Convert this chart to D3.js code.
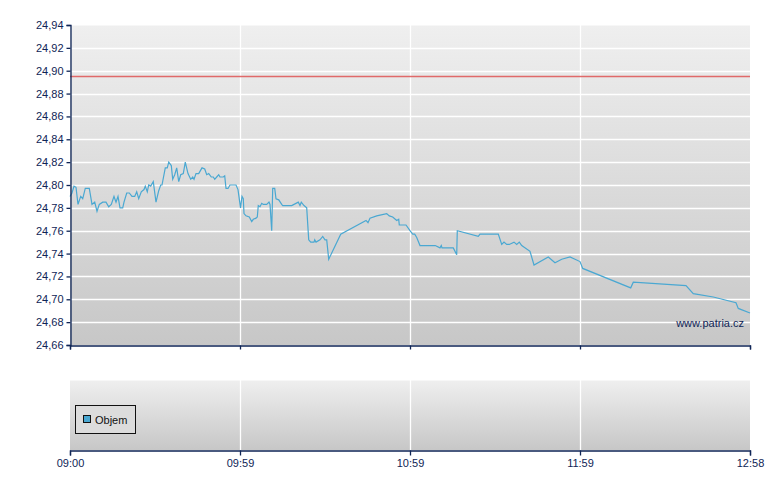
<!DOCTYPE html>
<html>
<head>
<meta charset="utf-8">
<script src="https://cdn.jsdelivr.net/npm/d3@7"></script>
<style>
  body { margin: 0; background: #fff; }
  svg { display: block; font-family: "Liberation Sans", Arial, sans-serif; }
</style>
</head>
<body>
<div id="vis"></div>
<script>
// intraday prices (time, price)
var times = ["09:00:00","09:00:42","09:01:24","09:02:06","09:02:48","09:03:45","09:04:27","09:05:21","09:06:45","09:07:42",
  "09:08:39","09:09:27","09:10:15","09:11:27","09:12:36","09:13:33","09:14:27","09:15:24","09:16:06","09:16:48",
  "09:17:30","09:18:27","09:18:54","09:19:51","09:20:45","09:21:42","09:22:39","09:23:21","09:24:03","09:24:57",
  "09:25:54","09:26:21","09:27:03","09:27:33","09:28:15","09:29:09","09:30:06","09:31:03","09:31:45","09:32:12",
  "09:33:21","09:34:03","09:34:33","09:35:27","09:35:57","09:36:39","09:37:21","09:38:03","09:38:45","09:39:39",
  "09:40:21","09:41:18","09:42:15","09:42:57","09:43:24","09:44:06","09:45:03","09:46:12","09:47:09","09:47:51",
  "09:48:33","09:49:27","09:50:09","09:50:39","09:51:21","09:52:03","09:52:30","09:53:39","09:54:09","09:54:36",
  "09:55:18","09:56:00","09:58:06","09:58:48","09:59:41","10:00:12","10:00:39","10:00:54","10:01:36","10:02:45",
  "10:03:36","10:04:09","10:05:06","10:05:33","10:05:54","10:06:30","10:07:06","10:07:39","10:08:15","10:08:51",
  "10:09:39","10:10:00","10:10:36","10:10:57","10:11:39","10:12:06","10:13:03","10:14:06","10:14:27","10:17:36",
  "10:19:54","10:20:30","10:20:57","10:21:54","10:22:51","10:23:33","10:24:15","10:25:24","10:25:39","10:26:06",
  "10:27:30","10:28:27","10:29:15","10:29:51","10:30:33","10:34:45","10:43:36","10:44:18","10:45:00","10:47:21",
  "10:50:51","10:51:45","10:52:57","10:54:21","10:55:03","10:55:15","10:57:36","10:59:00","10:59:57","11:00:39",
  "11:01:21","11:02:30","11:07:51","11:09:30","11:09:57","11:10:12","11:14:09","11:15:21","11:15:33","11:22:54",
  "11:23:30","11:29:54","11:31:06","11:31:54","11:32:51","11:33:45","11:35:24","11:36:21","11:37:15","11:38:06",
  "11:41:00","11:42:24","11:47:24","11:49:45","11:52:06","11:55:00","11:58:30","11:59:27","12:16:15","12:17:09",
  "12:35:36","12:38:09","12:45:09","12:53:06","12:53:54","12:58:00"];
var prices = [24.790,24.793,24.799,24.798,24.783,24.790,24.788,24.797,24.797,24.783,
  24.785,24.777,24.783,24.785,24.785,24.781,24.783,24.790,24.785,24.790,
  24.780,24.780,24.785,24.793,24.793,24.790,24.790,24.794,24.788,24.794,
  24.796,24.799,24.794,24.800,24.799,24.803,24.785,24.795,24.800,24.800,
  24.815,24.815,24.820,24.817,24.805,24.809,24.815,24.803,24.809,24.810,
  24.820,24.810,24.805,24.807,24.805,24.810,24.810,24.815,24.814,24.809,
  24.810,24.807,24.807,24.805,24.807,24.809,24.807,24.807,24.808,24.797,
  24.797,24.800,24.800,24.796,24.780,24.790,24.788,24.775,24.773,24.772,
  24.768,24.770,24.771,24.772,24.782,24.781,24.784,24.783,24.783,24.783,
  24.785,24.783,24.760,24.797,24.797,24.788,24.787,24.783,24.782,24.782,
  24.785,24.782,24.785,24.782,24.780,24.752,24.750,24.750,24.752,24.750,
  24.752,24.755,24.752,24.752,24.735,24.757,24.769,24.767,24.771,24.773,
  24.775,24.773,24.772,24.769,24.770,24.765,24.765,24.760,24.757,24.757,
  24.754,24.747,24.747,24.745,24.747,24.745,24.745,24.739,24.760,24.755,
  24.757,24.757,24.748,24.750,24.748,24.748,24.750,24.748,24.750,24.747,
  24.742,24.730,24.737,24.732,24.735,24.737,24.733,24.727,24.710,24.715,
  24.712,24.705,24.702,24.697,24.692,24.688];
var refPrice = 24.895;
var yTicks = [24.66,24.68,24.70,24.72,24.74,24.76,24.78,24.80,24.82,24.84,24.86,24.88,24.90,24.92,24.94];
var xTickLabels = ["09:00","09:59","10:59","11:59","12:58"];
var sessionStart = "09:00:00", sessionEnd = "12:58:00";
var legendLabel = "Objem";
var watermark = "www.patria.cz";

var W = 780, H = 490;
var left = 70, right = 750;
var top1 = 25, bot1 = 345;
var top2 = 380, bot2 = 450;
var navy = "#0f2556";

var parse = d3.timeParse("%H:%M:%S");
var data = times.map(function(t, i){ return {t: parse(t), v: prices[i]}; });

var x = d3.scaleTime().domain([parse(sessionStart), parse(sessionEnd)]).range([left, right]);
var y = d3.scaleLinear().domain([24.66, 24.94]).range([bot1, top1]);

// evenly spaced ticks across session
var t0 = +parse(sessionStart), t1 = +parse(sessionEnd);
var xTickVals = xTickLabels.map(function(d, i){ return new Date(t0 + (t1 - t0) * i / (xTickLabels.length - 1)); });

var svg = d3.select("#vis").append("svg").attr("width", W).attr("height", H);

var defs = svg.append("defs");
var grad = defs.append("linearGradient").attr("id", "bg").attr("x1", 0).attr("y1", 0).attr("x2", 0).attr("y2", 1);
grad.append("stop").attr("offset", "0%").attr("stop-color", "#efefef");
grad.append("stop").attr("offset", "100%").attr("stop-color", "#c7c7c7");

// panels
[[top1, bot1], [top2, bot2]].forEach(function(p){
  svg.append("rect").attr("x", left).attr("y", p[0]).attr("width", right - left).attr("height", p[1] - p[0])
    .attr("fill", "url(#bg)");
  svg.append("line").attr("x1", left).attr("x2", right).attr("y1", p[0] + 0.5).attr("y2", p[0] + 0.5)
    .attr("stroke", "#f7f7f7");
  svg.selectAll(null).data(xTickVals.slice(1, -1)).enter().append("line")
    .attr("x1", function(d){ return Math.round(x(d)) + 0.5; })
    .attr("x2", function(d){ return Math.round(x(d)) + 0.5; })
    .attr("y1", p[0]).attr("y2", p[1])
    .attr("stroke", "#fff").attr("stroke-width", 1.3);
});

// horizontal grid
svg.selectAll(".hgrid").data(yTicks.slice(1, -1)).enter().append("line")
  .attr("x1", left).attr("x2", right)
  .attr("y1", function(d){ return Math.round(y(d)) + 0.5; })
  .attr("y2", function(d){ return Math.round(y(d)) + 0.5; })
  .attr("stroke", "#fff").attr("stroke-width", 1.3);

// reference line
svg.append("line").attr("x1", left).attr("x2", right)
  .attr("y1", y(refPrice)).attr("y2", y(refPrice))
  .attr("stroke", "#e06a6a").attr("stroke-width", 1.6);

// price line
var line = d3.line().x(function(d){ return x(d.t); }).y(function(d){ return y(d.v); });
svg.append("path").datum(data).attr("d", line)
  .attr("fill", "none").attr("stroke", "#4aa8d2").attr("stroke-width", 1.2);

// watermark
svg.append("text").attr("x", 744).attr("y", 327).attr("text-anchor", "end")
  .attr("font-size", 11).attr("fill", navy).text(watermark);

// y axis
var yAxis = d3.axisLeft(y).tickValues(yTicks).tickSize(4).tickPadding(3)
  .tickFormat(function(d){ return d3.format(".2f")(d).replace(".", ","); });
var gy = svg.append("g").attr("transform", "translate(" + (left + 0.5) + ",0)").call(yAxis);

// x axis top panel (ticks only)
var gx1 = svg.append("g").attr("transform", "translate(0," + (bot1 + 0.5) + ")")
  .call(d3.axisBottom(x).tickValues(xTickVals).tickSize(4).tickFormat(""));

// x axis bottom panel
var gx2 = svg.append("g").attr("transform", "translate(0," + (bot2 + 0.5) + ")")
  .call(d3.axisBottom(x).tickValues(xTickVals).tickSize(5).tickPadding(4)
    .tickFormat(function(d, i){ return xTickLabels[i]; }));

[gy, gx1, gx2].forEach(function(g){
  g.select(".domain").attr("stroke", navy).attr("stroke-width", 1.3);
  g.selectAll(".tick line").attr("stroke", navy).attr("stroke-width", 1.3);
  g.selectAll("text").attr("fill", navy).attr("font-size", 11)
    .attr("font-family", "'Liberation Sans', Arial, sans-serif");
});

// legend
var lg = svg.append("g");
lg.append("rect").attr("x", 75.5).attr("y", 405.5).attr("width", 60).attr("height", 28)
  .attr("fill", "#dcdcdc").attr("stroke", "#111").attr("stroke-width", 1);
lg.append("rect").attr("x", 83.5).attr("y", 415.5).attr("width", 7).attr("height", 7)
  .attr("fill", "#4aa8d2").attr("stroke", "#111");
lg.append("text").attr("x", 95).attr("y", 424).attr("font-size", 11).attr("fill", "#111").text(legendLabel);
</script>
</body>
</html>
